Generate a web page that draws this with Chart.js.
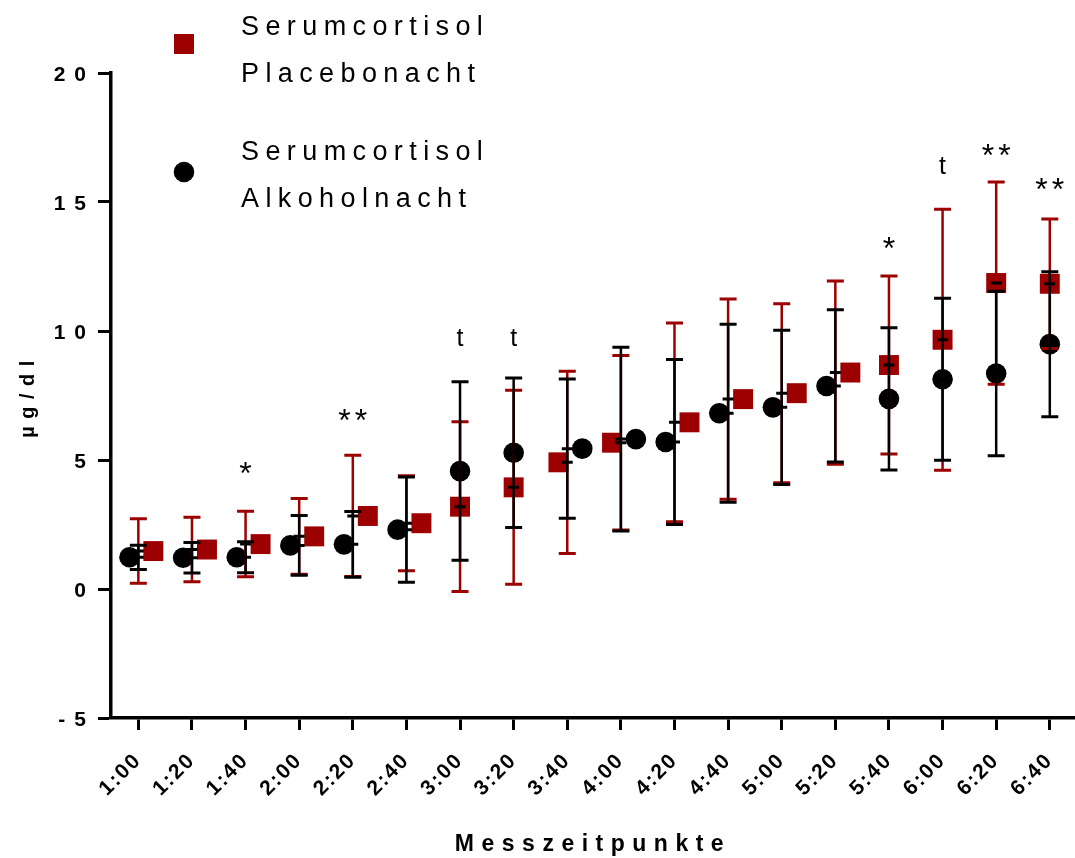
<!DOCTYPE html>
<html>
<head>
<meta charset="utf-8">
<script src="https://cdn.jsdelivr.net/npm/chart.js@4.4.1/dist/chart.umd.min.js"></script>
<style>
  html, body { margin: 0; padding: 0; background: #fff; }
  #wrap { width: 1075px; height: 858px; }
</style>
</head>
<body>
<div id="wrap"><canvas id="cortisolChart" width="1075" height="858"></canvas></div>
<script>
const timeLabels = ["1:00", "1:20", "1:40", "2:00", "2:20", "2:40", "3:00", "3:20", "3:40",
                    "4:00", "4:20", "4:40", "5:00", "5:20", "5:40", "6:00", "6:20", "6:40"];

const placeboMean = [1.47, 1.53, 1.74, 2.04, 2.83, 2.55, 3.19, 3.94, 4.91, 5.67, 6.46, 7.36, 7.59, 8.39, 8.68, 9.66, 11.86, 11.83];
const placeboSD   = [1.25, 1.25, 1.27, 1.47, 2.35, 1.84, 3.29, 3.76, 3.53, 3.38, 3.85, 3.88, 3.47, 3.55, 3.45, 5.06, 3.92, 2.51];
const alcoholMean = [1.23, 1.21, 1.23, 1.69, 1.73, 2.30, 4.57, 5.28, 5.44, 5.81, 5.70, 6.81, 7.04, 7.87, 7.37, 8.13, 8.35, 9.49];
const alcoholSD   = [0.47, 0.59, 0.60, 1.16, 1.27, 2.04, 3.46, 2.90, 2.70, 3.56, 3.20, 3.45, 2.99, 2.95, 2.76, 3.14, 3.19, 2.81];

// side the marker is pushed to where the two overlap (-1 left, 1 right, 0 none)
const placeboSide = [1, 1, 1, 1, 1, 1, 0, 0, -1, -1, 1, 1, 1, 1, 0, 0, 0, 0];
const alcoholSide = [-1, -1, -1, -1, -1, -1, 0, 0, 1, 1, -1, -1, -1, -1, 0, 0, 0, 0];

const sigLabels = ["", "", "*", "", "**", "", "t", "t", "", "", "", "", "", "", "*", "t", "**", "**"];
const sigLevel  = [null, null, 4.7, null, 6.75, null, 9.75, 9.75, null, null, null, null, null, null, 13.4, 16.4, 17.0, 15.7];

const seriesNames = [["Serumcortisol", "Placebonacht"], ["Serumcortisol", "Alkoholnacht"]];
const yTicks = [-5, 0, 5, 10, 15, 20];

const RED = "#9c0000";
const FONT = "'Liberation Sans', Arial, sans-serif";

function sideShift(s) {
  if (s > 0) return 0.28;
  if (s < 0) return -0.165;
  return 0;
}

// wide letter spacing on the axis texts, set per scale
function spaceOut(scale, tickGap, titleGap) {
  if (scale._spaced) return;
  scale._spaced = true;
  const drawLabels = scale.drawLabels;
  const drawTitle = scale.drawTitle;
  scale.drawLabels = function (area) {
    this.ctx.letterSpacing = tickGap;
    drawLabels.call(this, area);
    this.ctx.letterSpacing = "0px";
  };
  scale.drawTitle = function (area) {
    this.ctx.letterSpacing = titleGap;
    drawTitle.call(this, area);
    this.ctx.letterSpacing = "0px";
  };
}

const spacing = {
  id: "spacing",
  beforeDraw(chart) {
    spaceOut(chart.scales.x, "2px", "7.5px");
    spaceOut(chart.scales.y, "9px", "7.5px");
  }
};

const errorBars = {
  id: "errorBars",
  afterDatasetsDraw(chart) {
    const { ctx, scales: { x, y } } = chart;
    const groups = [[placeboMean, placeboSD, RED], [alcoholMean, alcoholSD, "#000"]];

    ctx.save();
    ctx.lineCap = "butt";
    groups.forEach(([mean, sd, color]) => {
      ctx.strokeStyle = color;
      mean.forEach((m, i) => {
        const px = x.getPixelForValue(i);
        const top = y.getPixelForValue(m + sd[i]);
        const bot = y.getPixelForValue(m - sd[i]);
        ctx.lineWidth = 2.5;
        ctx.beginPath();
        ctx.moveTo(px, top);
        ctx.lineTo(px, bot);
        ctx.stroke();
        ctx.lineWidth = 3;
        ctx.beginPath();
        ctx.moveTo(px - 8.5, top);
        ctx.lineTo(px + 8.5, top);
        ctx.moveTo(px - 8.5, bot);
        ctx.lineTo(px + 8.5, bot);
        ctx.stroke();
      });
    });

    // short mean marks on the bars
    ctx.strokeStyle = "#000";
    ctx.lineWidth = 3;
    ctx.beginPath();
    [placeboMean, alcoholMean].forEach(mean => mean.forEach((m, i) => {
      const px = x.getPixelForValue(i);
      const py = y.getPixelForValue(m);
      ctx.moveTo(px - 5.5, py);
      ctx.lineTo(px + 5.5, py);
    }));
    ctx.stroke();
    ctx.restore();
  }
};

const sigMarks = {
  id: "sigMarks",
  afterDatasetsDraw(chart) {
    const { ctx, scales: { x, y } } = chart;
    ctx.save();
    ctx.fillStyle = "#000";
    ctx.textAlign = "left";
    ctx.textBaseline = "alphabetic";
    sigLabels.forEach((s, i) => {
      if (!s) return;
      const gap = s === "t" ? 0 : 4;
      ctx.font = (s === "t" ? "25px " : "32px ") + FONT;
      ctx.letterSpacing = gap + "px";
      const m = ctx.measureText(s);
      const w = m.width - gap;
      const cx = x.getPixelForValue(i);
      const cy = y.getPixelForValue(sigLevel[i]);
      const base = cy + (m.actualBoundingBoxAscent - m.actualBoundingBoxDescent) / 2;
      ctx.fillText(s, cx - w / 2, base);
    });
    ctx.restore();
  }
};

const sideLegend = {
  id: "sideLegend",
  afterDraw(chart) {
    const ctx = chart.ctx;
    const markerY = [44, 172];
    const firstLine = [35, 160];
    ctx.save();
    ctx.font = "27px " + FONT;
    ctx.letterSpacing = "6.4px";
    ctx.textAlign = "left";
    ctx.textBaseline = "alphabetic";
    chart.data.datasets.forEach((ds, k) => {
      ctx.fillStyle = ds.backgroundColor;
      ctx.beginPath();
      if (ds.pointStyle === "rect") {
        ctx.rect(174, markerY[k] - 10, 20, 20);
      } else {
        ctx.arc(184, markerY[k], 10.3, 0, Math.PI * 2);
      }
      ctx.fill();
      ctx.fillStyle = "#000";
      seriesNames[k].forEach((line, j) => {
        ctx.fillText(line, 241, firstLine[k] + j * 47);
      });
    });
    ctx.restore();
  }
};

new Chart(document.getElementById("cortisolChart"), {
  type: "scatter",
  data: {
    datasets: [
      {
        label: seriesNames[0].join(" "),
        data: placeboMean.map((m, i) => ({ x: i + sideShift(placeboSide[i]), y: m })),
        pointStyle: "rect",
        pointRadius: 14.1,
        pointHoverRadius: 14.1,
        backgroundColor: RED,
        borderWidth: 0
      },
      {
        label: seriesNames[1].join(" "),
        data: alcoholMean.map((m, i) => ({ x: i + sideShift(alcoholSide[i]), y: m })),
        pointStyle: "circle",
        pointRadius: 10.3,
        pointHoverRadius: 10.3,
        backgroundColor: "#000",
        borderWidth: 0
      }
    ]
  },
  options: {
    responsive: false,
    animation: false,
    events: [],
    layout: {
      autoPadding: false,
      padding: { top: 73, right: 0, bottom: 0, left: 0 }
    },
    plugins: {
      legend: { display: false },
      tooltip: { enabled: false }
    },
    scales: {
      x: {
        type: "linear",
        min: -0.51,
        max: 17.47,
        afterBuildTicks: s => { s.ticks = timeLabels.map((_, i) => ({ value: i })); },
        afterFit: s => {
          s.height = 140;
          s.paddingRight = 0;
          s.paddingLeft = 0;
        },
        ticks: {
          autoSkip: false,
          maxRotation: 45,
          minRotation: 45,
          padding: 18,
          color: "#000",
          font: { family: FONT, size: 21, weight: "bold" },
          callback: v => timeLabels[v]
        },
        grid: { drawOnChartArea: false, drawTicks: true, tickLength: 12, tickWidth: 3, tickColor: "#000" },
        border: { display: true, color: "#000", width: 3.5 },
        title: {
          display: true,
          text: "Messzeitpunkte",
          color: "#000",
          font: { family: FONT, size: 23, weight: "bold" },
          padding: { top: 0, bottom: 0 }
        }
      },
      y: {
        min: -5,
        max: 20,
        afterBuildTicks: s => { s.ticks = yTicks.map(v => ({ value: v })); },
        afterFit: s => { s.width = 111; },
        ticks: {
          padding: 3,
          labelOffset: 2,
          color: "#000",
          font: { family: FONT, size: 21, weight: "bold" }
        },
        grid: { drawOnChartArea: false, drawTicks: true, tickLength: 13, tickWidth: 3, tickColor: "#000" },
        border: { display: true, color: "#000", width: 3.5 },
        title: {
          display: true,
          text: "µg/dl",
          color: "#000",
          font: { family: FONT, size: 20, weight: "bold" },
          padding: { top: 16, bottom: 0 }
        }
      }
    }
  },
  plugins: [spacing, errorBars, sigMarks, sideLegend]
});
</script>
</body>
</html>
